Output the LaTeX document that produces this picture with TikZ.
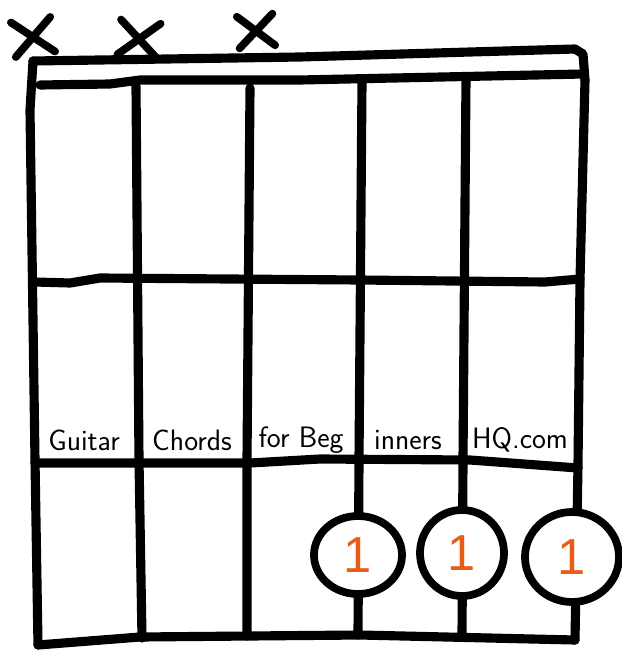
\documentclass[tikz,border=0pt]{standalone}
\usepackage{fontspec}
\usepackage{tikz}
\usetikzlibrary{shapes.geometric,shapes.misc}
\newfontfamily\fingerfont{Liberation Sans}
\definecolor{fingerorange}{RGB}{232,92,24}

\begin{document}
\begin{tikzpicture}[x=0.025cm, y=-0.025cm, line cap=round, line join=round,
  grid/.style={line width=6.5pt},
  mute/.style={draw, cross out, line width=5.5pt, inner sep=0pt, minimum width=0.8cm, minimum height=0.68cm},
  finger/.style={draw, ellipse, line width=5.5pt, fill=white, inner sep=0pt, text=fingerorange,
    font=\fingerfont\fontsize{36}{36}\selectfont},
  cell/.style={inner sep=0pt, font=\sffamily\fontsize{21}{21}\selectfont}]
\useasboundingbox (0,0) rectangle (622,650);

% Nut
\draw[grid] (33,61) -- (300,57) -- (470,52) -- (575,49) -- (583,54) -- (585,80);
\draw[grid] (40,85) -- (110,84) -- (140,80) -- (300,80) -- (583,74);

% Strings
\draw[grid] (33,61) -- (30,110) -- (35,460) -- (38,645);
\draw[grid] (136,86) -- (139,460) -- (142,638);
\draw[grid] (250,88) -- (247,460) -- (247,636);
\draw[grid] (362,82) -- (359,460) -- (358,635);
\draw[grid] (466,78) -- (463,460) -- (462,637);
\draw[grid] (585,80) -- (580,280) -- (578,465) -- (575,640);

% Frets
\draw[grid] (35,282) -- (70,283) -- (100,278) -- (360,280) -- (545,282) -- (580,279);
\draw[grid] (35,463) -- (250,463) -- (320,459) -- (470,460) -- (578,468);
\draw[grid] (38,645) -- (140,637) -- (360,635) -- (575,640);

% Muted strings
\node[mute, rotate=8] (mute1) at (33,37) {};
\node[mute, rotate=-6] (mute2) at (139,39) {};
\node[mute, rotate=5, minimum width=0.7cm, minimum height=0.6cm] (mute3) at (256,31) {};

% Text across the second fret
\node[cell] (cell1) at (84,440) {Guitar};
\node[cell] (cell2) at (192,440) {Chords};
\node[cell] (cell3) at (301,440) {for Beg};
\node[cell] (cell4) at (408,440) {inners};
\node[cell] (cell5) at (520,440) {HQ.com};

% Fingers
\node[finger, minimum width=2.2cm, minimum height=1.95cm] (finger4) at (358,555) {1};
\node[finger, minimum width=2.1cm, minimum height=2.15cm] (finger5) at (462,553) {1};
\node[finger, minimum width=2.35cm, minimum height=2.25cm] (finger6) at (572,557) {1};

\end{tikzpicture}
\end{document}
